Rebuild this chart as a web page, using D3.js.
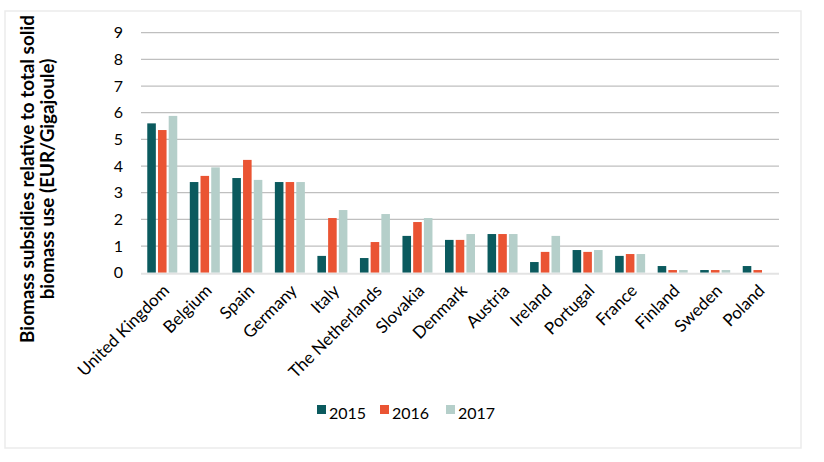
<!DOCTYPE html>
<html><head><meta charset="utf-8">
<script src="https://cdn.jsdelivr.net/npm/d3@7/dist/d3.min.js"></script>
<style>body{margin:0;background:#fff}svg{display:block}</style>
</head><body>
<svg id="c" width="824" height="462"></svg>
<script>
const categories = ["United Kingdom","Belgium","Spain","Germany","Italy","The Netherlands","Slovakia","Denmark","Austria","Ireland","Portugal","France","Finland","Sweden","Poland"];
const seriesNames = ["2015","2016","2017"];
const v2015 = [5.6,3.4,3.55,3.4,0.63,0.55,1.38,1.23,1.45,0.4,0.85,0.63,0.25,0.1,0.25];
const v2016 = [5.35,3.63,4.23,3.4,2.05,1.15,1.9,1.23,1.45,0.78,0.78,0.7,0.1,0.1,0.1];
const v2017 = [5.88,3.95,3.48,3.4,2.35,2.2,2.05,1.45,1.45,1.38,0.85,0.7,0.1,0.1,0];
const yTicks = [0,1,2,3,4,5,6,7,8,9];
const colors = ["#0b5a5e","#ea5433","#b5cfca"];
const series = [v2015,v2016,v2017];

const svg = d3.select("#c");
const font = "Lato, sans-serif";
svg.append("rect").attr("x",5).attr("y",11).attr("width",796).attr("height",437)
  .attr("fill","#fff").attr("stroke","#ebebeb").attr("stroke-width",1.5);

const x0 = d3.scaleBand().domain(categories).range([141,779]);
const x1 = d3.scaleBand().domain(seriesNames).range([0,30]).paddingInner(0.2);
const y = d3.scaleLinear().domain([0,9]).range([272.7,32.7]);

function fit(sel, target){
  const n = sel.node(); const fs = parseFloat(sel.attr("font-size"));
  const L = n.getComputedTextLength(); if(L>0) sel.attr("font-size", fs*target/L);
  return parseFloat(sel.attr("font-size"));
}

// gridlines
svg.append("g").selectAll("line").data(yTicks.filter(d=>d>0)).join("line")
  .attr("x1",141).attr("x2",779).attr("y1",d=>y(d)).attr("y2",d=>y(d))
  .attr("stroke","#bfbfbf").attr("stroke-width",1.3);

// y tick labels
const yAxis = d3.axisLeft(y).tickValues(yTicks).tickSize(0).tickPadding(0);
const ya = svg.append("g").attr("transform","translate(123,0)").call(yAxis);
ya.select(".domain").remove();
ya.selectAll("text").attr("font-family",font).attr("font-size",16).attr("fill","#000");

// bars
const groups = svg.append("g").selectAll("g").data(categories).join("g")
  .attr("transform",d=>`translate(${x0(d)+x0.bandwidth()/2-15},0)`);
groups.selectAll("rect").data((c,i)=>seriesNames.map((s,j)=>({s,v:series[j][i],j}))).join("rect")
  .attr("x",d=>x1(d.s)).attr("width",x1.bandwidth())
  .attr("y",d=>y(d.v)).attr("height",d=>y(0)-y(d.v))
  .attr("fill",d=>colors[d.j]);

// baseline
svg.append("line").attr("x1",141).attr("x2",779).attr("y1",y(0)+1).attr("y2",y(0)+1)
  .attr("stroke","#e3e3e3").attr("stroke-width",2);

// x labels
const xAxis = d3.axisBottom(x0).tickSize(0).tickPadding(0);
const xa = svg.append("g").attr("transform",`translate(0,${y(0)})`).call(xAxis);
xa.select(".domain").remove();
const xt = xa.selectAll("text").attr("font-family",font).attr("font-size",15).attr("fill","#000")
  .attr("text-anchor","end").attr("dy",null).attr("y",0)
  .attr("transform","translate(8,19) rotate(-45)");
const xfs = fit(d3.select(xt.nodes()[0]), 121);
xt.attr("font-size", xfs);

// y title
const yt = svg.append("text").attr("transform","translate(0,179) rotate(-90)")
  .attr("font-family",font).attr("font-weight","bold").attr("font-size",16).attr("text-anchor","middle");
const t1 = yt.append("tspan").attr("x",0).attr("y",34).text("Biomass subsidies relative to total solid");
const t2 = yt.append("tspan").attr("x",0).attr("y",54).text("biomass use (EUR/Gigajoule)");
{ const L = t1.node().getComputedTextLength(); if(L>0) yt.attr("font-size", 16*328/L); }

// legend
const legX = [317,380,446];
const lg = svg.append("g").selectAll("g").data(seriesNames).join("g")
  .attr("transform",(d,i)=>`translate(${legX[i]},0)`);
lg.append("rect").attr("x",0).attr("y",405).attr("width",9).attr("height",9).attr("fill",(d,i)=>colors[i]);
lg.append("text").attr("x",12).attr("y",419).attr("font-family",font).attr("font-size",16).text(d=>d);
</script>
</body></html>
